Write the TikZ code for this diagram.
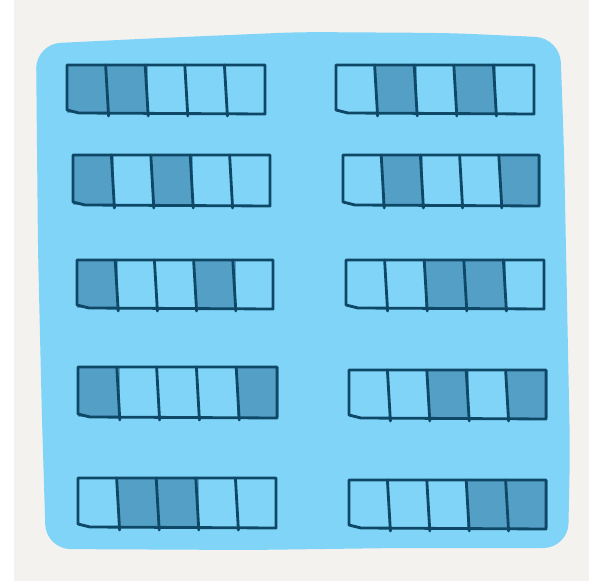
\documentclass[tikz,border=0pt]{standalone}
\definecolor{paper}{HTML}{F4F2EE}
\definecolor{sky}{HTML}{80D4F8}
\definecolor{cellblue}{HTML}{539FC6}
\definecolor{ink}{HTML}{0F4866}
\begin{document}
\begin{tikzpicture}[x=0.02cm, y=-0.02cm,
    ink line/.style={line width=1.6pt, ink, line cap=round, line join=round}]
        % --- Paper ---
        \fill[white] (0,0) rectangle (596,581);
        \fill[paper] (14,0) rectangle (589,581);

        % --- Blue sheet (hand painted) ---
        \fill[sky, rounded corners=14] (36,44) -- (160,38) -- (300,32) -- (450,33)
            -- (560,38) -- (564,150) -- (567,300) -- (570,450) -- (568,548)
            -- (400,548) -- (250,550) -- (46,549) -- (42,420) -- (38,250) -- cycle;

        % --- Strips: x0/y0/x1/y1/first shaded/second shaded ---
        \foreach \xa/\ya/\xb/\yb/\sa/\sb in {
            67/65/265/113/1/2, 73/155/270/205/1/3, 77/260/273/308/1/4,
            78/367/277/417/1/5, 78/478/276/527/2/3,
            336/65/534/113/2/4, 343/155/539/205/2/5, 346/260/544/308/3/4,
            349/370/546/418/3/5, 349/480/546/528/4/5} {
          \pgfmathsetmacro\w{(\xb-\xa)/5}
          % shaded cells
          \fill[cellblue] ({\xa+(\sa-1)*\w},\ya) rectangle ({\xa+\sa*\w+2},\yb);
          \fill[cellblue] ({\xa+(\sb-1)*\w},\ya) rectangle ({\xa+\sb*\w+2},\yb);
          % outline
          \draw[ink line] (\xa,\ya) -- (\xb,\ya) -- (\xb,\yb+1) -- ({\xa+12},\yb)
              -- (\xa,{\yb-3}) -- (\xa,\ya);
          % cell dividers
          \foreach \k in {1,...,4}
            \draw[ink line] ({\xa+\k*\w-1},\ya) -- ({\xa+\k*\w+2},{\yb+3});
        }
    \end{tikzpicture}
\end{document}
